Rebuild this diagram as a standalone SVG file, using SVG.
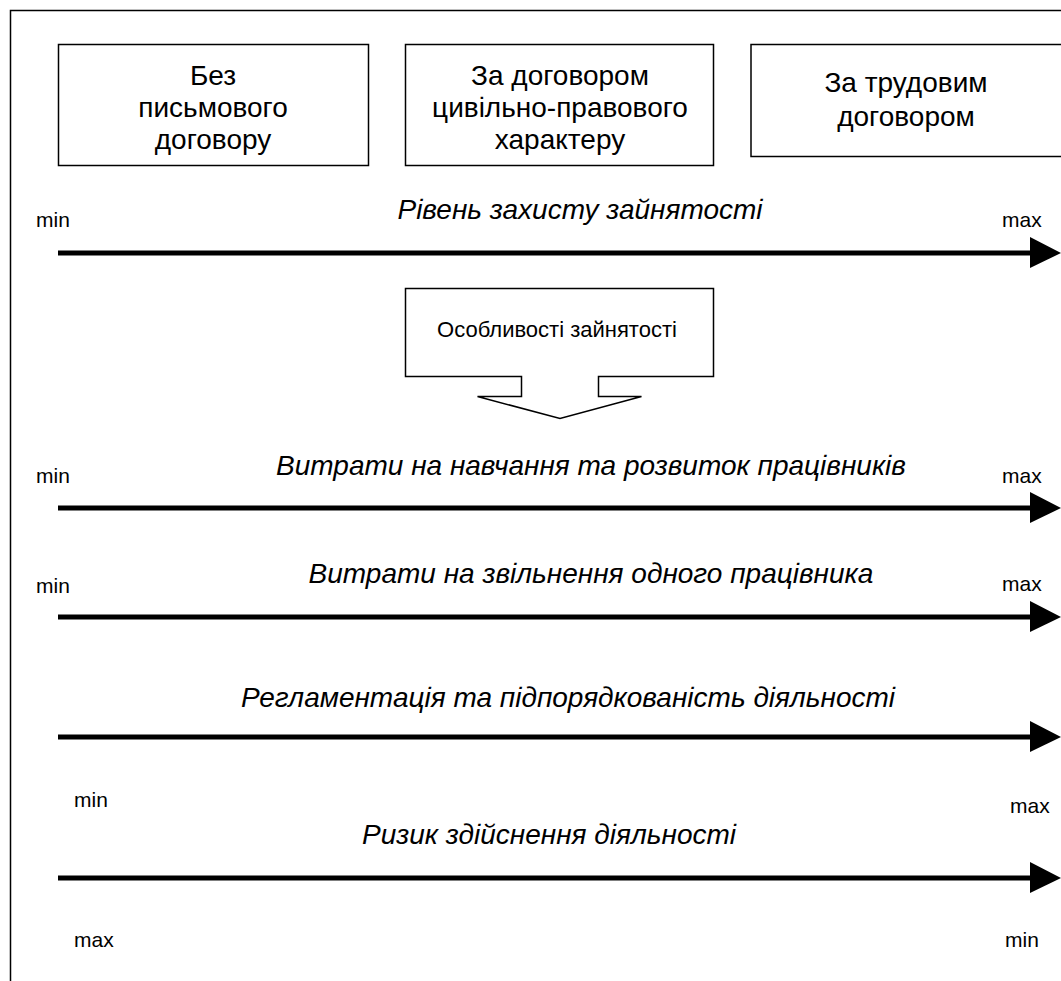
<svg xmlns="http://www.w3.org/2000/svg" width="1061" height="981" viewBox="0 0 1061 981">
<style>
.box{fill:#fff;stroke:#000;stroke-width:1.5}
.bt{font-family:"Liberation Sans",Arial,sans-serif;font-size:28px;fill:#000;text-anchor:middle}
.ttl{font-family:"Liberation Sans",Arial,sans-serif;font-size:28px;font-style:italic;fill:#000;text-anchor:middle}
.lbl{font-family:"Liberation Sans",Arial,sans-serif;font-size:21px;fill:#000}
.ct{font-family:"Liberation Sans",Arial,sans-serif;font-size:22px;fill:#000;text-anchor:middle}
.ln{stroke:#000;stroke-width:5;fill:none}
.hd{fill:#000}
</style>
<rect x="0" y="0" width="1061" height="981" fill="#fff"/>
<path d="M10.5,981 V10.5 H1061" fill="none" stroke="#000" stroke-width="1.5"/>
<g id="box1">
<rect class="box" x="58.5" y="44.5" width="310" height="121"/>
<text class="bt" x="213" y="85">Без</text>
<text class="bt" x="213" y="117">письмового</text>
<text class="bt" x="213" y="149">договору</text>
</g>
<g id="box2">
<rect class="box" x="405.5" y="44.5" width="308" height="121"/>
<text class="bt" x="560" y="85">За договором</text>
<text class="bt" x="560" y="117">цивільно-правового</text>
<text class="bt" x="560" y="149">характеру</text>
</g>
<g id="box3">
<rect class="box" x="751" y="44.5" width="312" height="112"/>
<text class="bt" x="906" y="92">За трудовим</text>
<text class="bt" x="906" y="126">договором</text>
</g>
<g id="callout">
<path class="box" d="M405.5,288.5 H713.5 V376.5 H598.5 V396.5 H641.5 L560,418.5 L477.5,396.5 H521.5 V376.5 H405.5 Z"/>
<text class="ct" x="557" y="337">Особливості зайнятості</text>
</g>
<g id="connectors">
<line class="ln" x1="58" y1="253" x2="1034" y2="253"/><polygon class="hd" points="1030,237 1061,253 1030,268"/>
<line class="ln" x1="58" y1="508" x2="1034" y2="508"/><polygon class="hd" points="1030,492 1061,508 1030,523"/>
<line class="ln" x1="58" y1="617" x2="1034" y2="617"/><polygon class="hd" points="1030,601 1061,617 1030,632"/>
<line class="ln" x1="58" y1="737" x2="1034" y2="737"/><polygon class="hd" points="1030,721 1061,737 1030,752"/>
<line class="ln" x1="58" y1="878" x2="1034" y2="878"/><polygon class="hd" points="1030,862 1061,878 1030,893"/>
</g>
<g id="labels">
<text class="ttl" x="580" y="219">Рівень захисту зайнятості</text>
<text class="ttl" x="591" y="475">Витрати на навчання та розвиток працівників</text>
<text class="ttl" x="591" y="583">Витрати на звільнення одного працівника</text>
<text class="ttl" x="568" y="707">Регламентація та підпорядкованість діяльності</text>
<text class="ttl" x="549" y="844">Ризик здійснення діяльності</text>
<text class="lbl" x="36" y="227">min</text><text class="lbl" x="1002" y="227">max</text>
<text class="lbl" x="36" y="483">min</text><text class="lbl" x="1002" y="483">max</text>
<text class="lbl" x="36" y="593">min</text><text class="lbl" x="1002" y="591">max</text>
<text class="lbl" x="74" y="807">min</text><text class="lbl" x="1010" y="813">max</text>
<text class="lbl" x="74" y="947">max</text><text class="lbl" x="1005" y="947">min</text>
</g>
</svg>
